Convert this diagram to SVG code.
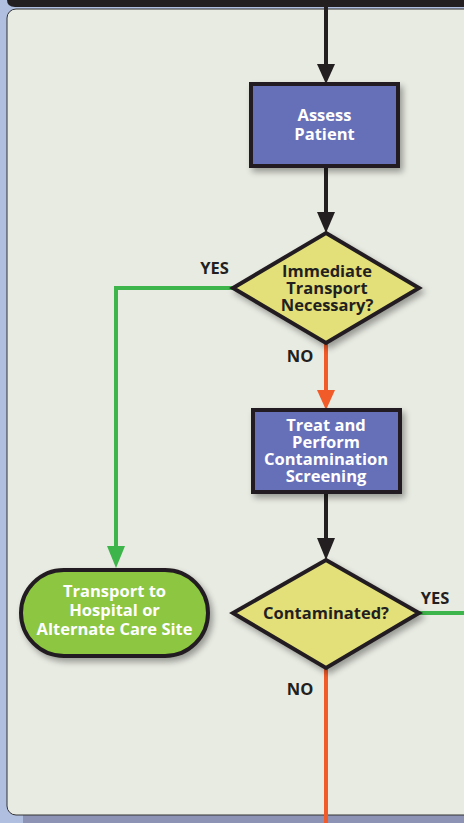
<svg xmlns="http://www.w3.org/2000/svg" width="464" height="823" viewBox="0 0 464 823">
<defs>
<filter id="sh" x="-20%" y="-20%" width="150%" height="150%">
<feGaussianBlur in="SourceAlpha" stdDeviation="3"/>
<feOffset dx="3" dy="4" result="b"/>
<feComponentTransfer><feFuncA type="linear" slope="0.35"/></feComponentTransfer>
<feMerge><feMergeNode/><feMergeNode in="SourceGraphic"/></feMerge>
</filter>
</defs>
<style>
.t{font-family:"Open Sans","Liberation Sans",sans-serif;font-weight:bold;font-size:16.5px;text-anchor:middle}
.w{fill:#ffffff}
.d{fill:#231f20}
.box{fill:#6670b8;stroke:#231f20;stroke-width:4}
.dia{fill:#e3e07a;stroke:#231f20;stroke-width:4;stroke-linejoin:miter}
.blk{stroke:#231f20;stroke-width:4;fill:none}
.grn{stroke:#3db54a;stroke-width:4;fill:none}
.org{stroke:#f15a29;stroke-width:4;fill:none}
</style>
<rect x="0" y="0" width="464" height="823" fill="#b0bfe0"/>
<rect x="23" y="800" width="441" height="23" fill="#8d93b5"/>
<path d="M7 0 H464 V7 H15 Q7 7 7 0 Z" fill="#231f20"/>
<rect x="7" y="9" width="470" height="806" rx="9" fill="#e8ebe2" stroke="#333333" stroke-width="1"/>
<g id="connectors">
<line class="blk" x1="326" y1="0" x2="326" y2="66"/>
<polygon points="317,64 335,64 326,84" fill="#231f20"/>
<line class="blk" x1="326" y1="166" x2="326" y2="214"/>
<polygon points="317,212 335,212 326,233" fill="#231f20"/>
<polyline class="grn" points="233,288 116,288 116,548"/>
<polygon points="107,546 125,546 116,568" fill="#3db54a"/>
<line class="org" x1="326" y1="343" x2="326" y2="392"/>
<polygon points="317,390 335,390 326,410" fill="#f15a29"/>
<line class="blk" x1="326" y1="492" x2="326" y2="540"/>
<polygon points="317,538 335,538 326,560" fill="#231f20"/>
<line class="grn" x1="419" y1="613" x2="464" y2="613"/>
<line class="org" x1="326" y1="668" x2="326" y2="823"/>
<text class="t d" x="214.5" y="274">YES</text>
<text class="t d" x="300" y="362">NO</text>
<text class="t d" x="435" y="604">YES</text>
<text class="t d" x="300" y="695">NO</text>
</g>
<g id="assess">
<rect class="box" x="251" y="84" width="147" height="82" filter="url(#sh)"/>
<text class="t w" x="324.5" y="121">Assess</text>
<text class="t w" x="324.5" y="140">Patient</text>
</g>
<g id="immediate">
<polygon class="dia" points="326,233 419,288 326,343 233,288" filter="url(#sh)"/>
<text class="t d" x="327" y="277">Immediate</text>
<text class="t d" x="327" y="294">Transport</text>
<text class="t d" x="327" y="311">Necessary?</text>
</g>
<g id="treat">
<rect class="box" x="253" y="410" width="147" height="82" filter="url(#sh)"/>
<text class="t w" x="326" y="431">Treat and</text>
<text class="t w" x="326" y="448">Perform</text>
<text class="t w" x="326" y="465">Contamination</text>
<text class="t w" x="326" y="482">Screening</text>
</g>
<g id="contaminated">
<polygon class="dia" points="326,560 419,613 326,668 233,613" filter="url(#sh)"/>
<text class="t d" x="326" y="619">Contaminated?</text>
</g>
<g id="transport">
<rect x="21" y="570" width="187" height="86" rx="43" fill="#8dc63f" stroke="#231f20" stroke-width="4" filter="url(#sh)"/>
<text class="t w" x="114.5" y="597">Transport to</text>
<text class="t w" x="114.5" y="616">Hospital or</text>
<text class="t w" x="114.5" y="635">Alternate Care Site</text>
</g>
</svg>
